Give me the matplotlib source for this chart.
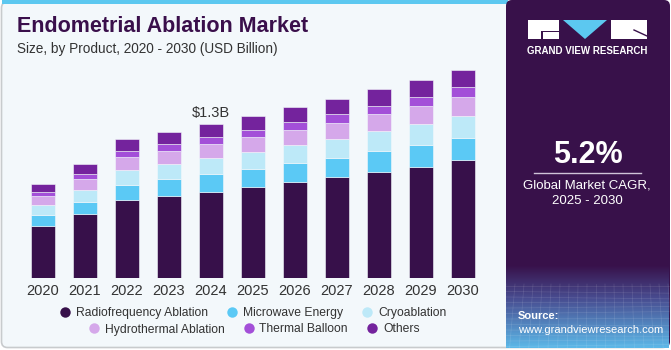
import numpy as np
import matplotlib.pyplot as plt
from matplotlib.patches import FancyBboxPatch, Rectangle, Polygon
from matplotlib.lines import Line2D

plt.rcParams['font.family'] = ['Liberation Sans', 'DejaVu Sans']

years = ['2020', '2021', '2022', '2023', '2024', '2025', '2026', '2027', '2028', '2029', '2030']
segments = ['Radiofrequency Ablation', 'Microwave Energy', 'Cryoablation',
            'Hydrothermal Ablation', 'Thermal Balloon', 'Others']
radiofrequency = [0.440, 0.540, 0.657, 0.691, 0.727, 0.767, 0.809, 0.851, 0.893, 0.940, 0.994]
microwave = [0.093, 0.106, 0.131, 0.143, 0.152, 0.154, 0.160, 0.163, 0.179, 0.183, 0.188]
cryoablation = [0.084, 0.099, 0.126, 0.129, 0.135, 0.143, 0.152, 0.160, 0.166, 0.177, 0.185]
hydrothermal = [0.073, 0.090, 0.104, 0.107, 0.115, 0.124, 0.129, 0.135, 0.143, 0.149, 0.158]
thermal_balloon = [0.034, 0.045, 0.053, 0.062, 0.062, 0.062, 0.067, 0.076, 0.072, 0.081, 0.084]
others = [0.067, 0.082, 0.104, 0.104, 0.110, 0.120, 0.124, 0.124, 0.138, 0.141, 0.148]
colors = ['#37104a', '#5bc9f5', '#bde9f8', '#d5a8ea', '#a34fd8', '#74239d']
annot_year = '2024'
annot_text = '$1.3B'

W, H = 671, 350
fig = plt.figure(figsize=(W / 100, H / 100), dpi=100)
fig.patch.set_facecolor('white')

# background layer in pixel coords
bg = fig.add_axes([0, 0, 1, 1], zorder=0)
bg.set_xlim(0, W)
bg.set_ylim(H, 0)
bg.axis('off')

bg.add_patch(FancyBboxPatch((1.5, 2), W - 4, H - 4.5, boxstyle='round,pad=0,rounding_size=6',
                            fc='#f3f8fb', ec='#c8cbcd', lw=1.2))
bg.add_patch(Rectangle((2, 0), 506, 4, fc='#5cc8f0', ec='none'))
bg.add_patch(FancyBboxPatch((506, 0), W - 507, H - 2.5, boxstyle='round,pad=0,rounding_size=6',
                            fc='#38114a', ec='none'))

# gradient at bottom of the side panel
c0 = np.array([0x38, 0x11, 0x4a]) / 255
c1 = np.array([0x48, 0x4c, 0x90]) / 255
c2 = np.array([0x5c, 0xb8, 0xe8]) / 255
img = np.zeros((100, 1, 3))
for i, g in enumerate(np.linspace(0, 1, 100)):
    if g < 0.4:
        t = g / 0.4
        img[i, 0] = c0 * (1 - t) + c1 * t
    else:
        t = (g - 0.4) / 0.6
        img[i, 0] = c1 * (1 - t) + c2 * t
bg.imshow(img, extent=(506, 669, 348, 265), aspect='auto', zorder=1)
for k in range(12):
    yy = 286 + k * 5.5
    bg.plot([506, 669], [yy, yy + 2 * np.sin(k)], color='white', alpha=0.12, lw=0.5, zorder=2)
for k in range(20):
    xx = 506 + k * 9
    bg.plot([xx, xx - 6 + k * 0.6], [284, 348], color='white', alpha=0.12, lw=0.5, zorder=2)

# logo
bg.add_patch(Rectangle((527.5, 20), 31, 19, fc='white', ec='none', zorder=3))
bg.add_patch(Rectangle((541, 30.5), 17.5, 1.5, fc='#38114a', ec='none', zorder=4))
bg.add_patch(Rectangle((541, 30.5), 1.5, 8.5, fc='#38114a', ec='none', zorder=4))
bg.add_patch(Polygon([(563, 20), (607, 20), (585, 39)], closed=True, fc='#5cc8f0', ec='none', zorder=3))
bg.add_patch(Rectangle((611, 20), 36, 19, fc='white', ec='none', zorder=3))
bg.plot([634, 647], [30, 36], color='#38114a', lw=1, zorder=4)
bg.text(587, 50.5, 'GRAND VIEW RESEARCH', color='white', fontsize=7, fontweight='bold',
        ha='center', va='center', zorder=3)

bg.text(588, 155, '5.2%', color='white', fontsize=22, fontweight='bold', ha='center', va='center', zorder=3)
bg.plot([534, 641], [173, 173], color='#cfc3d8', lw=1, zorder=3)
bg.text(587, 186, 'Global Market CAGR,', color='white', fontsize=9.5, ha='center', va='center', zorder=3)
bg.text(587, 201, '2025 - 2030', color='white', fontsize=9.5, ha='center', va='center', zorder=3)
bg.text(518, 316, 'Source:', color='white', fontsize=8, fontweight='bold', ha='left', va='center', zorder=3)
bg.text(518, 330, 'www.grandviewresearch.com', color='white', fontsize=8, ha='left', va='center', zorder=3)

bg.text(17, 27, 'Endometrial Ablation Market', color='#3a0f4b', fontsize=15.5, fontweight='heavy',
        ha='left', va='center')
bg.text(17, 49, 'Size, by Product, 2020 - 2030 (USD Billion)', color='#333333', fontsize=9.8,
        ha='left', va='center')

# chart
base_px = 278.3
top_px = 60
ax = fig.add_axes([22 / W, (H - base_px) / H, 462 / W, (base_px - top_px) / H], zorder=1)
ax.set_facecolor('none')
scale = 1.3 / 154.3
ax.set_xlim(-0.5, len(years) - 0.5)
ax.set_ylim(0, (base_px - top_px) * scale)

series = [radiofrequency, microwave, cryoablation, hydrothermal, thermal_balloon, others]
x = np.arange(len(years))
bottom = np.zeros(len(years))
for vals, col, name in zip(series, colors, segments):
    ax.bar(x, vals, 0.57, bottom=bottom, color=col, edgecolor='#f3f8fb', linewidth=0.4, label=name)
    bottom += np.array(vals)

i = years.index(annot_year)
ax.text(x[i], bottom[i] + 0.035, annot_text, ha='center', va='bottom', fontsize=10.5, color='#333333')

ax.set_xticks(x)
ax.set_xticklabels(years, fontsize=10.5, color='#333333')
ax.tick_params(axis='x', length=0, pad=4)
ax.set_yticks([])
for s in ax.spines.values():
    s.set_visible(False)

handles = [Line2D([], [], marker='o', ls='none', markersize=7.5, markerfacecolor=c,
                  markeredgecolor='none') for c in colors]
leg_kw = dict(frameon=False, fontsize=8.7, handletextpad=0.3, columnspacing=1.4,
              ncol=3, loc='center', handlelength=1.2)
l1 = fig.legend(handles[:3], segments[:3], bbox_to_anchor=(252 / W, (H - 313) / H), **leg_kw)
l2 = fig.legend(handles[3:], segments[3:], bbox_to_anchor=(253 / W, (H - 329.5) / H), **leg_kw)
for lg in (l1, l2):
    for t in lg.get_texts():
        t.set_color('#333333')

fig.savefig('out.png', dpi=100)
